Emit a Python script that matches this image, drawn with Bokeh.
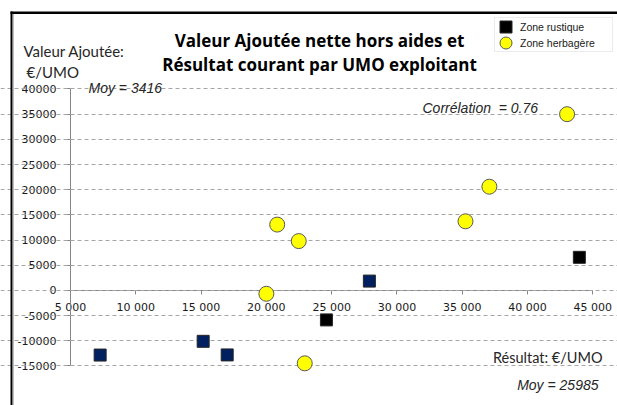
from bokeh.plotting import figure
from bokeh.models import (Label, Legend, LegendItem, FixedTicker, CustomJSTickFormatter,
                          BoxAnnotation, ColumnDataSource)
from bokeh.embed import file_html
from bokeh.resources import INLINE

# ---- data ----
rustique_x = [7270, 15160, 17000, 24600, 27890, 43970]
rustique_y = [-12830, -10100, -12800, -5850, 1860, 6580]
rustique_color = ["#002060", "#002060", "#002060", "#000000", "#002060", "#000000"]

herbagere_x = [20000, 20830, 22480, 22940, 35250, 37080, 43030]
herbagere_y = [-660, 13080, 9800, -14470, 13730, 20600, 35000]

x_ticks = [5000, 10000, 15000, 20000, 25000, 30000, 35000, 40000, 45000]
y_ticks = [-15000, -10000, -5000, 0, 5000, 10000, 15000, 20000, 25000, 30000, 35000, 40000]

NB = "\u00a0"
title_lines = ["Valeur Ajoutée nette hors aides et", "Résultat courant par UMO exploitant"]
y_title = ["Valeur Ajoutée:", "€/UMO"]
x_title = "Résultat: €/UMO"
moy_y_text = "Moy = 3416"
moy_x_text = "Moy = 25985"
corr_text = "Corrélation" + NB + NB + "=" + NB + "0.76"
legend_labels = ["Zone rustique", "Zone herbagère"]

W, H = 617, 405
# the plotting frame fills the whole canvas; axes cross at (5000, 0)
p = figure(width=W, height=H, output_backend="svg", toolbar_location=None,
           x_range=(-361, 46892), y_range=(-22843, 57572),
           min_border=0, min_border_left=0, min_border_right=0,
           min_border_top=0, min_border_bottom=0)
p.outline_line_color = None
p.background_fill_color = "white"
p.border_fill_color = "white"

p.xaxis.fixed_location = 0
p.yaxis.fixed_location = 5000
p.xaxis.ticker = FixedTicker(ticks=x_ticks)
p.yaxis.ticker = FixedTicker(ticks=y_ticks)
p.xaxis.bounds = (x_ticks[0], x_ticks[-1])
p.yaxis.bounds = (y_ticks[0], y_ticks[-1])
p.xaxis.formatter = CustomJSTickFormatter(
    code=r"return tick.toFixed(0).replace(/\B(?=(\d{3})+(?!\d))/g, ' ');")
p.yaxis.formatter = CustomJSTickFormatter(code="return tick.toFixed(0);")
for ax in (p.xaxis[0], p.yaxis[0]):
    ax.axis_line_color = "#868686"
    ax.axis_line_width = 1
    ax.major_tick_line_color = "#868686"
    ax.minor_tick_line_color = None
    ax.major_tick_in = 0
    ax.major_label_text_font = "DejaVu Sans"
    ax.major_label_text_font_size = "11px"
    ax.major_label_text_color = "#1a1a1a"
    ax.level = "underlay"
p.xaxis.major_tick_out = 4
p.xaxis.major_label_standoff = 7
p.yaxis.major_tick_out = 5
p.yaxis.major_label_standoff = 9

p.xgrid.visible = False
p.ygrid.grid_line_color = "#a6a6a6"
p.ygrid.grid_line_dash = "4 3"
p.ygrid.grid_line_width = 1
p.ygrid.bounds = (x_ticks[0] - 500, x_ticks[-1])

src_r = ColumnDataSource(dict(x=rustique_x, y=rustique_y, c=rustique_color))
src_h = ColumnDataSource(dict(x=herbagere_x, y=herbagere_y))

r1 = p.rect(x="x", y="y", width=12, height=12, width_units="screen", height_units="screen",
            source=src_r, fill_color="c", line_color="#262626", line_width=1)
r2 = p.ellipse(x="x", y="y", width=15, height=15, width_units="screen", height_units="screen",
               source=src_h, fill_color="#FFFF00", line_color="#595959", line_width=1)

legend = Legend(items=[LegendItem(label=legend_labels[0], renderers=[r1], index=3),
                       LegendItem(label=legend_labels[1], renderers=[r2])],
                location=(494, 353), orientation="vertical",
                glyph_width=15, glyph_height=15, label_height=12, label_width=86,
                spacing=1, padding=dict(left=3, right=6, top=1, bottom=1),
                margin=0, label_standoff=7,
                label_text_font="Liberation Sans", label_text_font_size="10.5px",
                label_text_color="#1a1a1a",
                border_line_color="#d9d9d9", border_line_width=1,
                background_fill_color="white", background_fill_alpha=1)
p.add_layout(legend)

def lab(x, y, text, font, size, style="normal", align="left", color="#000000"):
    p.add_layout(Label(x=x, y=y, x_units="screen", y_units="screen", text=text,
                       text_font=font, text_font_size=size, text_font_style=style,
                       text_align=align, text_baseline="alphabetic", text_color=color))

lab(319, 365, title_lines[0], "Open Sans", "17px", "bold", "center")
lab(319, 341, title_lines[1], "Open Sans", "17px", "bold", "center")
lab(23, 355, y_title[0], "Lato", "15px", color="#262626")
lab(26, 334, y_title[1], "Lato", "15px", color="#262626")
lab(88, 318, moy_y_text, "Liberation Sans", "14px", "italic", color="#262626")
lab(422, 298, corr_text, "Liberation Sans", "14px", "italic", color="#262626")
lab(602, 48, x_title, "Lato", "14.5px", align="right", color="#262626")
lab(598, 21, moy_x_text, "Liberation Sans", "14px", "italic", align="right", color="#262626")

# chart frame border (thick left and top lines)
def box(l, r, t, b, color):
    p.add_layout(BoxAnnotation(left=l, right=r, top=t, bottom=b,
                               left_units="screen", right_units="screen",
                               top_units="screen", bottom_units="screen",
                               fill_color=color, fill_alpha=1, line_color=None))

box(10, 12, 394, -10, "#000000")
box(12, 13, 392, -10, "#7f7f7f")
box(10, 630, 394, 391.5, "#000000")

open("out.html", "w").write(file_html(p, INLINE))
